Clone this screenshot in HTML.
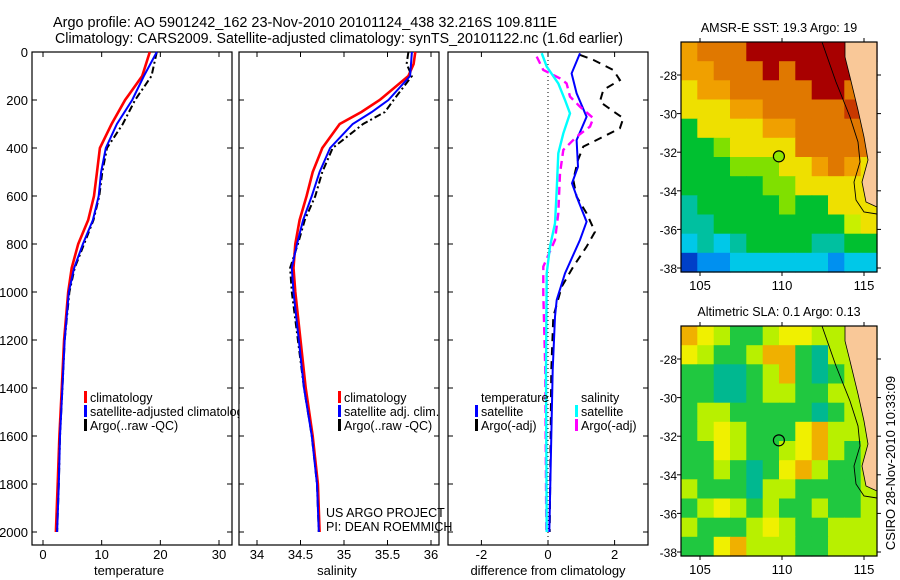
<!DOCTYPE html>
<html><head><meta charset="utf-8"><style>
body{margin:0;background:#fff}
svg{display:block;font-family:"Liberation Sans",sans-serif}
</style></head><body>
<svg id="fig" width="900" height="580" viewBox="0 0 900 580">
<rect width="900" height="580" fill="#fff"/>
<text x="53" y="27" font-size="14.5" textLength="504" lengthAdjust="spacingAndGlyphs">Argo profile: AO 5901242_162 23-Nov-2010 20101124_438 32.216S 109.811E</text>
<text x="55" y="43" font-size="14.5" textLength="568" lengthAdjust="spacingAndGlyphs">Climatology: CARS2009. Satellite-adjusted climatology: synTS_20101122.nc (1.6d earlier)</text>
<g id="g"></g>
</svg>
<script>
// ---- data ----
const tDepth=[0,100,200,300,400,500,600,700,800,900,1000,1200,1400,1600,1800,2000];
const tClim=[18.2,16.9,14.0,11.7,9.7,9.2,8.7,7.7,6.0,4.9,4.3,3.6,3.2,2.8,2.5,2.2];
const tSat=[19.4,17.2,15.2,12.6,10.7,9.9,9.5,8.5,6.8,5.3,4.4,3.7,3.3,2.9,2.7,2.4];
const tArgo=[19.4,18.5,15.7,13.6,10.9,10.1,9.6,8.6,7.0,5.4,4.5,3.7,3.3,2.9,2.7,2.4];
const sDepth=[0,50,100,200,250,300,400,500,600,700,800,900,1000,1200,1400,1600,1800,2000];
const sClim=[35.82,35.80,35.74,35.41,35.20,34.95,34.75,34.64,34.57,34.49,34.44,34.42,34.44,34.50,34.56,34.64,34.70,34.72];
const sSat=[35.78,35.77,35.76,35.51,35.32,35.10,34.84,34.72,34.63,34.53,34.46,34.40,34.42,34.48,34.54,34.63,34.69,34.71];
const sArgo=[35.74,35.72,35.78,35.57,35.47,35.22,34.87,34.75,34.67,34.55,34.47,34.38,34.40,34.47,34.54,34.63,34.69,34.71];
const dTsDepth=[5,89,172,270,367,478,547,617,707,783,922,1033,1103,1325,2000];
const dTsat=[0.96,0.71,0.86,1.16,0.86,0.90,0.72,0.90,1.16,0.96,0.51,0.26,0.21,0.14,0.04];
const dTaDepth=[12,33,75,117,158,207,242,276,318,360,394,450,533,603,672,749,811,894,978,1103,1325,2000];
const dTargo=[0.96,1.36,1.96,2.16,1.66,1.56,1.91,2.26,2.16,1.56,1.06,0.90,0.76,0.86,1.16,1.41,1.16,0.76,0.41,0.16,0.10,0.05];
const dSsDepth=[5,61,131,200,256,339,422,575,714,811,922,1325,2000];
const dSsat=[-0.19,-0.04,0.31,0.51,0.66,0.46,0.31,0.26,0.21,0.06,-0.04,-0.06,-0.04];
const dSaDepth=[19,75,110,131,186,228,276,311,353,408,506,672,783,894,1006,1325,2000];
const dSargo=[-0.34,-0.14,0.36,0.56,0.66,0.96,1.36,1.26,0.86,0.46,0.36,0.31,0.21,-0.14,-0.14,-0.08,-0.05];
const depthTicks=[0,200,400,600,800,1000,1200,1400,1600,1800,2000];
const tTicks=[0,10,20,30];
const sTicks=[34,34.5,35,35.5,36];
const sTickLabels=["34","34.5","35","35.5","36"];
const dTicks=[-2,0,2];
const latTicks=[28,30,32,34,36,38];
const lonTicks=[105,110,115];
const sstGrid=[
"oOOODDDDDDDD","ooOOODODDDDO","YooOOOOODDOO","YYYooOOOOORO","GYYYYooOOOOO","GGLYYYYOOOOO",
"GGGLLLYYoOoY","GGGGGLLYYYYY","TGGGGGLGGYYY","TTGGGGGGGGyY","CTCTGGGGTTGG","NBBCCCCCCBCC"];
const slaGrid=[
"OYyggyYYyyyy","YyggyOOgtyyy","ggttgyOgtgyy","ggttgyyggyyy","gyygggggtgyy","gyYygggYOyyy",
"ggYyggyYOygy","ggygtgYOyggy","ygggtyyggggy","gyYygyggyggy","ygggyYyggyyy","ggYOyyyggyyy"];
const sstCol={D:"#a80000",R:"#c83800",O:"#e07800",o:"#f0a000",Y:"#eee000",y:"#c8f000",L:"#80e000",G:"#00c030",T:"#00c0a0",C:"#00c8e8",B:"#0090f0",N:"#0040c8"};
const slaCol={O:"#f0b000",Y:"#f0f000",y:"#b8f000",g:"#20c840",t:"#00b890"};

// ---- helpers ----
const NS="http://www.w3.org/2000/svg";
const G=document.getElementById('g');
function mk(tag,attrs,parent){const e=document.createElementNS(NS,tag);for(const k in attrs)e.setAttribute(k,attrs[k]);(parent||G).appendChild(e);return e;}
const TOP=52,BOT=545;
const yD=d=>52+0.24*d;
const panels=[
 {name:'temperature',L:32,R:232,x:v=>43+5.867*v},
 {name:'salinity',L:239,R:439,x:v=>257+87*(v-34)},
 {name:'difference',L:448,R:648,x:v=>548+33.3*v}];

function line(xs,ds,xf,col,w,dash,name){
  const pts=xs.map((v,i)=>xf(v).toFixed(1)+','+yD(ds[i]).toFixed(1)).join(' ');
  const p=mk('polyline',{points:pts,fill:'none',stroke:col,'stroke-width':w});
  if(dash)p.setAttribute('stroke-dasharray',dash);
  
  
}
function txt(x,y,s,size,anchor,name){
  const t=mk('text',{x:x,y:y,'font-size':size,'text-anchor':anchor||'start'});
  t.textContent=s;
  
  
  return t;
}

// ---- panels frames ----
panels.forEach((p,pi)=>{
  const r=mk('rect',{x:p.L,y:TOP,width:p.R-p.L,height:BOT-TOP,fill:'none',stroke:'#000','stroke-width':1.2});
  
  
  depthTicks.forEach(d=>{
    mk('line',{x1:p.L,x2:p.L+5,y1:yD(d),y2:yD(d),stroke:'#000'});
    mk('line',{x1:p.R,x2:p.R-5,y1:yD(d),y2:yD(d),stroke:'#000'});
  });
});
depthTicks.forEach(d=>txt(28,yD(d)+5,String(d),13,'end','depth-tick-label'));
tTicks.forEach(v=>{const X=panels[0].x(v);mk('line',{x1:X,x2:X,y1:BOT,y2:BOT-5,stroke:'#000'});mk('line',{x1:X,x2:X,y1:TOP,y2:TOP+5,stroke:'#000'});txt(X,559,String(v),13,'middle','temperature-tick-label');});
sTicks.forEach((v,i)=>{const X=panels[1].x(v);mk('line',{x1:X,x2:X,y1:BOT,y2:BOT-5,stroke:'#000'});mk('line',{x1:X,x2:X,y1:TOP,y2:TOP+5,stroke:'#000'});txt(X,559,sTickLabels[i],13,'middle','salinity-tick-label');});
dTicks.forEach(v=>{const X=panels[2].x(v);mk('line',{x1:X,x2:X,y1:BOT,y2:BOT-5,stroke:'#000'});mk('line',{x1:X,x2:X,y1:TOP,y2:TOP+5,stroke:'#000'});txt(X,559,String(v),13,'middle','difference-tick-label');});
txt(129,575,'temperature',13,'middle','temperature-axis-title');
txt(337,575,'salinity',13,'middle','salinity-axis-title');
txt(548,575,'difference from climatology',13,'middle','difference-axis-title');
mk('line',{x1:548,x2:548,y1:TOP,y2:BOT,stroke:'#000','stroke-dasharray':'1,3'});

// ---- series ----
const P=panels;
line(tClim,tDepth,P[0].x,'#f00',2.6,null,'temperature-climatology-line');
line(tArgo,tDepth,P[0].x,'#000',2,'7,3,2,3','temperature-argo-line');
line(tSat,tDepth,P[0].x,'#00f',2,null,'temperature-satellite-line');
line(sClim,sDepth,P[1].x,'#f00',2.6,null,'salinity-climatology-line');
line(sArgo,sDepth,P[1].x,'#000',2,'7,3,2,3','salinity-argo-line');
line(sSat,sDepth,P[1].x,'#00f',2,null,'salinity-satellite-line');
line(dTargo,dTaDepth,P[2].x,'#000',2,'8,6','temp-argo-diff-line');
line(dTsat,dTsDepth,P[2].x,'#00f',2,null,'temp-satellite-diff-line');
line(dSargo,dSaDepth,P[2].x,'#f0f',2.4,'8,5','sal-argo-diff-line');
line(dSsat,dSsDepth,P[2].x,'#0ff',2.4,null,'sal-satellite-diff-line');

// ---- legends ----
function leg(x,y,col,label,name){
  mk('rect',{x:x-6,y:y-11,width:3,height:12,fill:col});
  txt(x,y,label,12.5,'start',name);
}
leg(90,402,'#f00','climatology','legend-climatology');
leg(90,416,'#00f','satellite-adjusted climatology','legend-satellite');
leg(90,430,'#000','Argo(..raw -QC)','legend-argo');
// mask overflow of legend into panel 2 gap like reference
mk('rect',{x:239.6,y:404,width:30,height:16,fill:'#fff'});
leg(344,402,'#f00','climatology','legend-sal-climatology');
leg(344,416,'#00f','satellite adj. clim.','legend-sal-satellite');
leg(344,430,'#000','Argo(..raw -QC)','legend-sal-argo');
txt(481,402,'temperature',12.5,'start','legend-temperature-header');
leg(481,416,'#00f','satellite','legend-temp-satellite');
leg(481,430,'#000','Argo(-adj)','legend-temp-argo');
txt(581,402,'salinity',12.5,'start','legend-salinity-header');
leg(581,416,'#0ff','satellite','legend-sal-sat');
leg(581,430,'#f0f','Argo(-adj)','legend-sal-argo-adj');
txt(326,517,'US ARGO PROJECT',12.5,'start','project-label');
txt(326,531,'PI: DEAN ROEMMICH',12.5,'start','pi-label');

// ---- maps ----
function map(top,grid,cols,title,fillCircle,name){
  const L=681,R=877,B=top+230,W=R-L,H=B-top;
  const cw=W/12,ch=H/grid.length;
  const g=mk('g',{});
  
  
  grid.forEach((row,ri)=>{[...row].forEach((c,ci)=>{
    mk('rect',{x:(L+ci*cw).toFixed(1),y:(top+ri*ch).toFixed(1),width:(cw+0.6).toFixed(1),height:(ch+0.6).toFixed(1),fill:cols[c]},g);
  });});
  const lat=v=>top+33+(v-28)*19.3, lon=v=>700+(v-105)*16.4;
  mk('polygon',{points:`845,${top} ${R},${top} ${R},${top+165} 866,${top+160} 862,${top+140} 868,${top+118} 864,${top+95} 858,${top+68} 850,${top+35} 845,${top+15}`,fill:'#f9c898',stroke:'#000','stroke-width':0.8},g);
  mk('polyline',{points:`822,${top} 836,${top+40} 850,${top+75} 858,${top+100} 860,${top+120} 854,${top+140} 856,${top+158} 864,${top+170} ${R},${top+172}`,fill:'none',stroke:'#000','stroke-width':0.9},g);
  mk('rect',{x:L,y:top,width:W,height:H,fill:'none',stroke:'#000','stroke-width':1.2},g);
  latTicks.forEach(v=>{const Y=lat(v);mk('line',{x1:L-4,x2:L,y1:Y,y2:Y,stroke:'#000'},g);mk('line',{x1:R,x2:R+4,y1:Y,y2:Y,stroke:'#000'},g);txt(677,Y+5,'-'+v,12,'end','map-lat-label');});
  lonTicks.forEach(v=>{const X=lon(v);mk('line',{x1:X,x2:X,y1:B,y2:B+4,stroke:'#000'},g);mk('line',{x1:X,x2:X,y1:top,y2:top-4,stroke:'#000'},g);txt(X,B+18,String(v),13,'middle','map-lon-label');});
  const c=mk('circle',{cx:lon(109.811),cy:lat(32.216),r:5.5,fill:fillCircle,stroke:'#000','stroke-width':1.2},g);
  
  
  txt(779,top-10,title,12.5,'middle',name+'-title');
}
map(42,sstGrid,sstCol,'AMSR-E SST: 19.3 Argo: 19','#90e800','sst-map');
map(326,slaGrid,slaCol,'Altimetric SLA: 0.1 Argo: 0.13','none','sla-map');
const v=txt(0,0,'CSIRO 28-Nov-2010 10:33:09',13,'middle','timestamp-label');
v.setAttribute('transform','translate(895,463) rotate(-90)');
</script>
</body></html>
